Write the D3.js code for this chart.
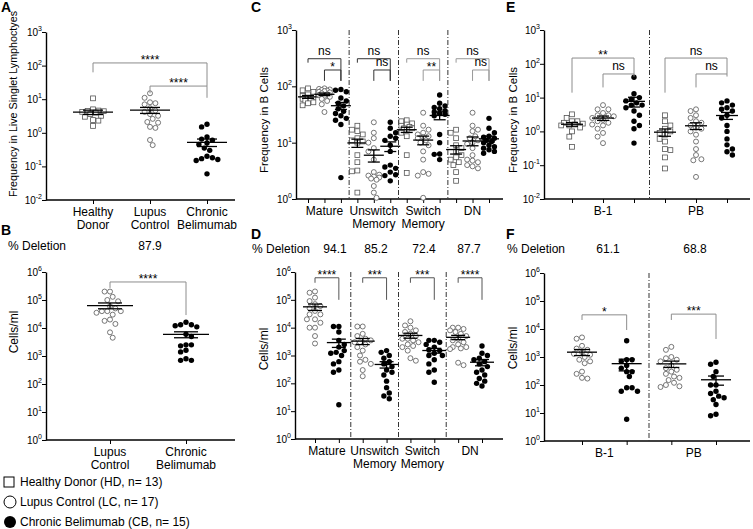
<!DOCTYPE html>
<html><head><meta charset="utf-8">
<script src="https://cdn.jsdelivr.net/npm/d3@7"></script>
<style>body{margin:0;background:#fff}svg{display:block}text{font-family:"Liberation Sans",Arial,Helvetica,sans-serif}</style>
</head><body><svg id="c" width="753" height="529"></svg>
<script>
// ---------------- DATA ----------------
const legendLabels = ["Healthy Donor (HD, n= 13)", "Lupus Control (LC, n= 17)", "Chronic Belimumab (CB, n= 15)"];

// Panel A: frequency in live singlet lymphocytes
const aCategories = [["Healthy","Donor"],["Lupus","Control"],["Chronic","Belimumab"]];
const aHD = [10.6, 5, 4.6, 4.5, 4.4, 4.2, 4, 3.6, 3.2, 3, 2.4, 2.3, 1.6];
const aLC = [15, 11, 8.1, 7.6, 7, 5.4, 4.6, 4.2, 3.6, 3.2, 2.6, 2.1, 2, 1.5, 1.4, 0.61, 0.43];
const aCB = [1.8, 1.5, 0.75, 0.65, 0.6, 0.5, 0.45, 0.35, 0.3, 0.2, 0.18, 0.17, 0.16, 0.15, 0.06];

// Panel B: cells/ml
const bCategories = [["Lupus","Control"],["Chronic","Belimumab"]];
const bLC = [200000, 200000, 130000, 100000, 90000, 60000, 50000, 40000, 40000, 40000, 35000, 30000, 20000, 18000, 14000, 7000, 4500];
const bCB = [16000, 13000, 13000, 12000, 11000, 6000, 5000, 2500, 2500, 2300, 1600, 1400, 800, 700, 700];
const bDeletion = "87.9";

// Panel C / D subsets (order: Mature, Unswitch Memory, Switch Memory, DN)
const subsetCategories = [["Mature"],["Unswitch","Memory"],["Switch","Memory"],["DN"]];
const cHD = [
  [92, 85, 80, 72, 68, 65, 62, 60, 58, 55, 52, 50, 46],
  [20, 17, 16, 14, 12, 11, 10.5, 10, 6, 4.5, 3.2, 3.1, 1.3],
  [25, 24, 22, 21, 20, 19, 18, 18, 17, 15, 13, 6, 2.9],
  [17, 15, 12, 9, 8, 7, 6, 5.5, 5, 4.5, 4, 3, 2.1]
];
const cLC = [
  [92, 90, 88, 86, 84, 82, 80, 78, 75, 72, 70, 68, 65, 60, 55, 48, 35],
  [23, 15, 12, 10, 8, 7, 5, 3, 2.7, 2.6, 2.5, 2.4, 2.3, 2.2, 1.7, 1.3, 1.05],
  [34, 20, 17, 15, 14, 13, 12.5, 12, 11, 10, 9, 7, 5, 3, 2.8, 2.6, 1.05],
  [34, 20, 17, 16, 13, 12, 11, 10, 9.5, 8, 6, 5, 4.8, 4.5, 4, 3.8, 3.5]
];
const cCB = [
  [88, 85, 80, 62, 55, 50, 45, 40, 36, 33, 30, 27, 25, 21, 2.4],
  [23, 18, 15, 13, 12, 11, 9, 7, 4, 3.7, 3.5, 3, 2.7, 2.6, 2.1],
  [70, 50, 45, 42, 40, 37, 35, 33, 32, 30, 14, 10, 6.3, 6.2, 5],
  [27, 18, 15, 13, 12.5, 12, 11, 10.5, 10, 9, 8.5, 8, 7.5, 7, 6.5]
];
const cSig = [["ns","*"],["ns","ns"],["ns","**"],["ns","ns"]];

const dLC = [
  [200000, 180000, 120000, 90000, 70000, 60000, 50000, 40000, 30000, 30000, 20000, 20000, 15000, 10000, 10000, 5000, 2700],
  [11000, 11000, 6000, 5000, 4000, 3500, 3000, 3000, 2500, 2000, 1500, 1000, 700, 600, 500, 300, 180],
  [17000, 12000, 10000, 8000, 7000, 6000, 5000, 4000, 4000, 3500, 3000, 2500, 2200, 2000, 1500, 800, 650],
  [10000, 10000, 9000, 8000, 7000, 6000, 5000, 4000, 3500, 3000, 2500, 2000, 2000, 1800, 1700, 550, 450]
];
const dCB = [
  [11000, 11000, 7000, 3500, 2500, 2000, 1500, 1300, 1200, 1000, 600, 500, 300, 250, 17],
  [1500, 1300, 1000, 800, 600, 500, 400, 300, 250, 200, 120, 70, 45, 35, 28],
  [3500, 3500, 3000, 2500, 2000, 1600, 1500, 1200, 1000, 1000, 700, 500, 300, 250, 110],
  [2200, 1200, 1000, 800, 700, 600, 500, 400, 300, 250, 200, 150, 120, 100, 80]
];
const dSig = ["****","***","***","****"];
const dDeletion = ["94.1","85.2","72.4","87.7"];

// Panel E / F (order: B-1, PB)
const rareCategories = [["B-1"],["PB"]];
const eHD = [
  [3.2, 2.5, 2, 2, 1.8, 1.7, 1.6, 1.5, 1.5, 1.3, 1, 0.7, 0.35],
  [3, 2, 1.5, 1.2, 1, 0.9, 0.8, 0.6, 0.5, 0.3, 0.28, 0.17, 0.08]
];
const eLC = [
  [6, 4.5, 4.5, 3.5, 3, 3, 2.8, 2.5, 2.2, 2, 1.8, 1.6, 1.5, 1.2, 0.9, 0.7, 0.45],
  [4.5, 4, 3, 2.5, 2, 1.8, 1.5, 1.3, 1.2, 1, 0.8, 0.5, 0.3, 0.2, 0.15, 0.14, 0.045]
];
const eCB = [
  [40, 13, 10, 9, 8, 7, 6, 6, 5, 4, 3, 2, 1.5, 1.2, 0.45],
  [8, 7, 6, 5, 4.5, 4, 3, 2.5, 1.5, 1, 0.6, 0.4, 0.3, 0.25, 0.2]
];
const eSig = [["**","ns"],["ns","ns"]];

const fLC = [
  [5000, 4500, 2500, 2000, 1800, 1500, 1300, 1200, 1000, 800, 700, 600, 300, 250, 180, 170],
  [2300, 1800, 1000, 900, 800, 700, 500, 400, 350, 300, 250, 200, 180, 150, 120, 100, 90, 85]
];
const fCB = [
  [3800, 800, 800, 700, 500, 400, 300, 300, 200, 80, 80, 60, 60, 6],
  [650, 550, 300, 200, 100, 100, 60, 50, 40, 35, 30, 20, 9, 8]
];
const fSig = ["*","***"];
const fDeletion = ["61.1","68.8"];

// ---------------- DRAWING ----------------
const svg = d3.select("#c");

function dodge(values, y, maxW, minDist) {
  const pts = values.map(v => ({v, y: y(v)})).sort((a, b) => b.v - a.v);
  const placed = [];
  const step = minDist / 2;
  pts.forEach((p, idx) => {
    const s = idx % 2 ? -1 : 1;
    const cands = [0];
    for (let k = 1; k * step <= maxW; k++) cands.push(s * k * step, -s * k * step);
    let best = 0, bestD = -1;
    for (const c of cands) {
      let md = Infinity;
      for (const q of placed) { const d = Math.hypot(q.dx - c, q.y - p.y); if (d < md) md = d; }
      if (md >= minDist) { best = c; break; }
      if (md > bestD) { bestD = md; best = c; }
    }
    p.dx = best; placed.push(p);
  });
  return pts;
}

function marker(g, type, x, y) {
  if (type === "HD") g.append("rect").attr("x", x - 2.4).attr("y", y - 2.4).attr("width", 4.8).attr("height", 4.8)
    .attr("fill", "#fff").attr("stroke", "#555").attr("stroke-width", 0.8);
  else if (type === "LC") g.append("circle").attr("cx", x).attr("cy", y).attr("r", 2.5)
    .attr("fill", "#fff").attr("stroke", "#555").attr("stroke-width", 0.8);
  else g.append("circle").attr("cx", x).attr("cy", y).attr("r", 2.7).attr("fill", "#000");
}

function panel(cfg) {
  const g = svg.append("g");
  const y = d3.scaleLog().domain(cfg.domain).range([cfg.yBot, cfg.yTop]);
  const exps = d3.range(Math.round(Math.log10(cfg.domain[0])), Math.round(Math.log10(cfg.domain[1])) + 1);
  // y axis
  const yg = g.append("g").attr("transform", `translate(${cfg.x0},0)`)
    .call(d3.axisLeft(y).tickValues(exps.map(e => Math.pow(10, e))).tickSize(4).tickSizeOuter(0).tickFormat(""));
  yg.select(".domain").attr("stroke", "#000").attr("stroke-width", 1.4);
  yg.selectAll(".tick line").attr("stroke", "#000").attr("stroke-width", 1);
  exps.forEach(e => {
    const t = g.append("text").attr("x", cfg.x0 - 4).attr("y", y(Math.pow(10, e)) + 4)
      .attr("text-anchor", "end").attr("font-size", 10).attr("fill", "#000");
    t.append("tspan").text("10");
    t.append("tspan").attr("font-size", 7).attr("dy", -5).text(String(e));
  });
  // x slots
  const slotKeys = [];
  cfg.groups.forEach((gr, gi) => gr.keys.forEach(k => slotKeys.push(gi + "|" + k)));
  const x = d3.scalePoint().domain(slotKeys).range(cfg.slotRange);
  g.append("line").attr("x1", cfg.x0).attr("x2", cfg.x1).attr("y1", cfg.yBot).attr("y2", cfg.yBot)
    .attr("stroke", "#000").attr("stroke-width", 1.4);
  const xg = g.append("g").attr("transform", `translate(0,${cfg.yBot})`)
    .call(d3.axisBottom(x).tickSize(4).tickFormat(""));
  xg.select(".domain").remove();
  xg.selectAll(".tick line").attr("stroke", "#000").attr("stroke-width", 1);
  // separators between groups
  for (let gi = 1; gi < cfg.groups.length; gi++) {
    const prev = cfg.groups[gi - 1].keys, cur = cfg.groups[gi].keys;
    const sx = (x((gi - 1) + "|" + prev[prev.length - 1]) + x(gi + "|" + cur[0])) / 2;
    g.append("line").attr("x1", sx).attr("x2", sx).attr("y1", cfg.yTop).attr("y2", cfg.yBot)
      .attr("stroke", "#333").attr("stroke-width", 1).attr("stroke-dasharray", "5,2,1,2");
  }
  // category labels (per group, or per slot when given)
  const addLabel = (cx, lines) => {
    const t = g.append("text").attr("text-anchor", "middle").attr("font-size", 12).attr("fill", "#000");
    lines.forEach((ln, li) => t.append("tspan").attr("x", cx).attr("y", cfg.yBot + 16 + li * 12.5).text(ln));
  };
  cfg.groups.forEach((gr, gi) => {
    if (gr.slotLabels) gr.keys.forEach((k, ki) => addLabel(x(gi + "|" + k), gr.slotLabels[ki]));
    else addLabel(d3.mean(gr.keys, k => x(gi + "|" + k)), gr.label);
  });
  // points + mean/SEM
  cfg.groups.forEach((gr, gi) => {
    gr.keys.forEach((k, ki) => {
      const vals = gr.values[ki];
      const cx = x(gi + "|" + k);
      const pts = dodge(vals, y, cfg.spread, 5.4);
      pts.forEach(p => marker(g, k, cx + p.dx, p.y));
      const m = d3.mean(vals), sem = d3.deviation(vals) / Math.sqrt(vals.length);
      const lg = g.append("g").attr("stroke", "#000").attr("stroke-width", 1.3);
      lg.append("line").attr("x1", cx - cfg.mh).attr("x2", cx + cfg.mh).attr("y1", y(m)).attr("y2", y(m));
      lg.append("line").attr("x1", cx).attr("x2", cx).attr("y1", y(m - sem)).attr("y2", y(m + sem));
      [m - sem, m + sem].forEach(v => lg.append("line").attr("x1", cx - cfg.sh).attr("x2", cx + cfg.sh).attr("y1", y(v)).attr("y2", y(v)));
    });
    // significance brackets
    (gr.brackets || []).forEach(b => {
      const xa = x(gi + "|" + b.from), xb = x(gi + "|" + b.to);
      g.append("path").attr("d", `M${xa},${y(b.left)}V${y(b.top)}H${xb}V${y(b.right)}`)
        .attr("fill", "none").attr("stroke", b.color || cfg.bracketColor).attr("stroke-width", 1);
      const star = b.label.indexOf("*") >= 0;
      g.append("text").attr("x", (xa + xb) / 2).attr("y", y(b.top) + (star ? 1 : -3.5))
        .attr("text-anchor", "middle").attr("font-size", 12).attr("fill", "#000").text(b.label);
    });
  });
  // y title
  const tt = g.append("text").attr("transform", `translate(${cfg.titleX},${cfg.titleY}) rotate(-90)`)
    .attr("text-anchor", "middle").attr("font-size", cfg.titleSize || 12).attr("fill", "#000").text(cfg.title);
  if (cfg.titleLen) tt.attr("textLength", cfg.titleLen).attr("lengthAdjust", "spacingAndGlyphs");
}

// Panel A
panel({
  x0: 46, x1: 235, yTop: 32, yBot: 200, domain: [1e-2, 1e3], slotRange: [93, 207],
  spread: 14, mh: 20, sh: 10, bracketColor: "#8c8c8c",
  title: "Frequency in Live Singlet Lymphoctyes", titleX: 17, titleY: 104, titleSize: 11, titleLen: 186,
  groups: [{
    keys: ["HD", "LC", "CB"], slotLabels: aCategories, values: [aHD, aLC, aCB],
    brackets: [
      {from: "HD", to: "CB", top: 120, left: 63, right: 24.6, label: "****"},
      {from: "LC", to: "CB", top: 24.6, left: 15, right: 11, label: "****"}
    ]
  }]
});

// Panel B
panel({
  x0: 46, x1: 235, yTop: 272, yBot: 440, domain: [1, 1e6], slotRange: [110, 186],
  spread: 15, mh: 23, sh: 12, bracketColor: "#8c8c8c",
  title: "Cells/ml", titleX: 18, titleY: 332,
  groups: [{
    keys: ["LC", "CB"], slotLabels: bCategories, values: [bLC, bCB],
    brackets: [{from: "LC", to: "CB", top: 4.4e5, left: 2.7e5, right: 2.9e4, label: "****"}]
  }]
});

// Panel C
const cColors = ["#333", "#333", "#999", "#999"];
panel({
  x0: 296, x1: 503, yTop: 30, yBot: 199, domain: [1, 1e3], slotRange: [308, 489],
  spread: 8, mh: 10, sh: 6, bracketColor: "#333",
  title: "Frequency in B Cells", titleX: 268, titleY: 120, titleSize: 11.5, titleLen: 106,
  groups: subsetCategories.map((lab, i) => ({
    keys: ["HD", "LC", "CB"], label: lab, values: [cHD[i], cLC[i], cCB[i]],
    brackets: [
      {from: "HD", to: "CB", top: 309, left: 263, right: 125, label: cSig[i][0], color: cColors[i]},
      {from: "LC", to: "CB", top: 195, left: 125, right: 125, label: cSig[i][1], color: cColors[i]}
    ]
  }))
});

// Panel D
panel({
  x0: 295, x1: 503, yTop: 272, yBot: 439, domain: [1, 1e6], slotRange: [315, 482],
  spread: 10, mh: 12, sh: 7, bracketColor: "#555",
  title: "Cells/ml", titleX: 268, titleY: 349,
  groups: subsetCategories.map((lab, i) => ({
    keys: ["LC", "CB"], label: lab, values: [dLC[i], dCB[i]],
    brackets: [{from: "LC", to: "CB", top: 6.2e5, left: 4.1e5, right: 1e5, label: dSig[i]}]
  }))
});

// Panel E
panel({
  x0: 544, x1: 750, yTop: 30, yBot: 199, domain: [1e-2, 1e3], slotRange: [572, 727],
  spread: 13, mh: 11, sh: 6, bracketColor: "#8c8c8c",
  title: "Frequency in B Cells", titleX: 517, titleY: 120, titleSize: 11.5, titleLen: 106,
  groups: rareCategories.map((lab, i) => ({
    keys: ["HD", "LC", "CB"], label: lab, values: [eHD[i], eLC[i], eCB[i]],
    brackets: [
      {from: "HD", to: "CB", top: 148, left: 14, right: 50, label: eSig[i][0]},
      {from: "LC", to: "CB", top: 50, left: 20, right: 42, label: eSig[i][1]}
    ]
  }))
});

// Panel F
panel({
  x0: 544, x1: 750, yTop: 273, yBot: 441, domain: [1, 1e6], slotRange: [582, 716],
  spread: 15, mh: 15, sh: 8, bracketColor: "#8c8c8c",
  title: "Cells/ml", titleX: 517, titleY: 348,
  groups: rareCategories.map((lab, i) => ({
    keys: ["LC", "CB"], label: lab, values: [fLC[i], fCB[i]],
    brackets: [{from: "LC", to: "CB", top: i ? 3.4e4 : 3.2e4, left: 2.1e4, right: i ? 4.4e3 : 9.2e3, label: fSig[i]}]
  }))
});

// % Deletion rows
const tx = (x, y, s, anchor) => svg.append("text").attr("x", x).attr("y", y).attr("font-size", 12)
  .attr("text-anchor", anchor || "start").attr("fill", "#000").text(s);
tx(8, 250, "% Deletion");
tx(150, 250, bDeletion, "middle");
tx(252, 253, "% Deletion");
const dCenters = [335, 376, 424, 469];
dDeletion.forEach((s, i) => tx(dCenters[i], 253, s, "middle"));
tx(507, 253, "% Deletion");
const fCenters = [608, 695];
fDeletion.forEach((s, i) => tx(fCenters[i], 253, s, "middle"));

// panel letters
[["A", 1, 12], ["B", 1, 235], ["C", 251, 12], ["D", 251, 239], ["E", 506, 12], ["F", 506, 239]].forEach(([l, x, y]) =>
  svg.append("text").attr("x", x).attr("y", y).attr("font-size", 14).attr("font-weight", "bold").attr("fill", "#000").text(l));

// legend
const lg = svg.append("g");
lg.append("rect").attr("x", 4).attr("y", 477).attr("width", 10).attr("height", 10).attr("fill", "#fff").attr("stroke", "#000").attr("stroke-width", 1);
lg.append("circle").attr("cx", 10).attr("cy", 502).attr("r", 6).attr("fill", "#fff").attr("stroke", "#000").attr("stroke-width", 1);
lg.append("circle").attr("cx", 10).attr("cy", 522).attr("r", 6).attr("fill", "#000");
legendLabels.forEach((s, i) => tx(20, 486 + i * 20, s));
</script></body></html>
